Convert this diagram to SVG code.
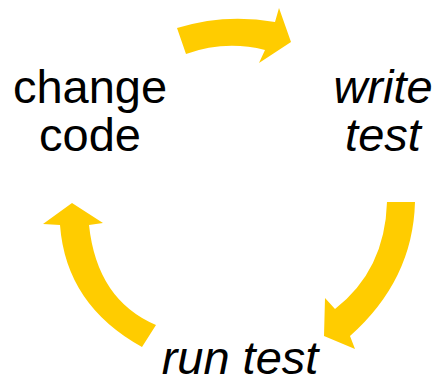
<svg xmlns="http://www.w3.org/2000/svg" width="436" height="381" viewBox="0 0 436 381">
<style>
.lbl{font-family:"Liberation Sans",Arial,sans-serif;font-size:47px;fill:#000;text-anchor:middle}
.it{font-style:italic}
.arr{fill:#FFCC00;stroke:none}
</style>
<rect width="436" height="381" fill="#fff"/>
<g id="connectors">
<path class="arr" d="M 177,28 Q 225,13 275,22 L 279,8 L 291,42 L 259,63 L 265,50 Q 225,40 186,54 Z"/>
<path class="arr" d="M 387,202 L 415,202 Q 413,280 350,336 L 355,349 L 324,336 L 325,298 L 335,309 Q 385,270 387,202 Z"/>
<path class="arr" d="M 60,225 L 43,224 L 72,203 L 103,223 L 89,225 Q 97,300 156,325 L 142,347 Q 66,305 60,225 Z"/>
</g>
<g id="change-code">
<text class="lbl" x="90" y="103">change</text>
<text class="lbl" x="90" y="151">code</text>
</g>
<g id="write-test">
<text class="lbl it" x="383" y="103">write</text>
<text class="lbl it" x="383" y="151">test</text>
</g>
<g id="run-test">
<text class="lbl it" x="240" y="374">run test</text>
</g>
</svg>
